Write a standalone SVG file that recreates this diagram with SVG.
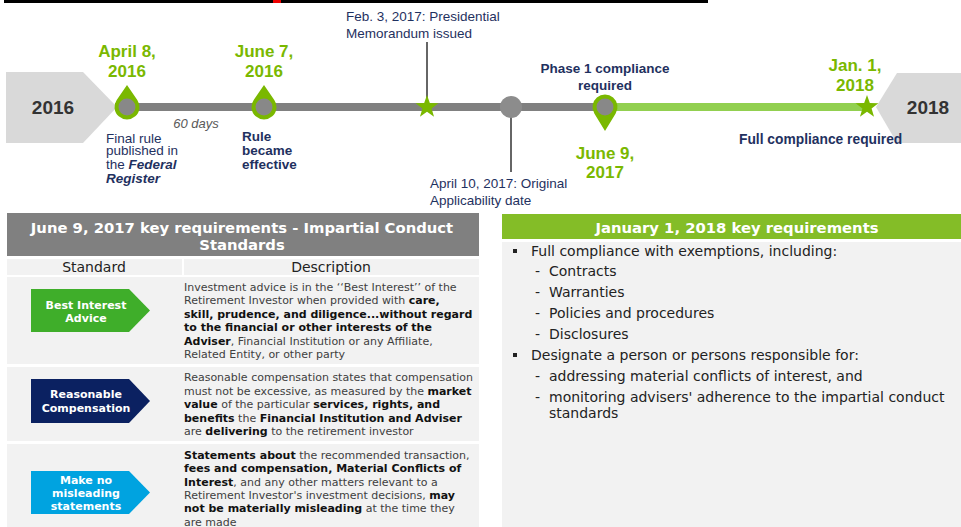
<svg xmlns="http://www.w3.org/2000/svg" width="961" height="527" viewBox="0 0 961 527">
<style>
.tl{font-family:"Liberation Sans",Arial,sans-serif}
.navy{fill:#1f3160}
.grn{fill:#7ab800;font-weight:bold;font-size:17px}
.yr{font-family:"Liberation Sans",Arial,sans-serif;font-weight:bold;font-size:19px;fill:#333}
.lbl{font-size:13.5px}
.tb{font-family:"DejaVu Sans",Verdana,sans-serif}
.hd{font-family:"DejaVu Sans",Verdana,sans-serif;font-size:14.8px;font-weight:bold;fill:#fff}
.desc{font-family:"DejaVu Sans",Verdana,sans-serif;font-size:11px;fill:#404040}
.desc tspan.b{font-weight:bold;fill:#111}
.arrt{font-family:"DejaVu Sans",Verdana,sans-serif;font-size:11px;font-weight:bold;fill:#fff}
.rt{font-family:"DejaVu Sans",Verdana,sans-serif;font-size:14px;fill:#222}
.lead{stroke:#333;stroke-width:1.5;fill:none}
</style>
<defs>
<polygon id="star" points="0,-12 2.82,-3.88 11.41,-3.71 4.57,1.48 7.05,9.71 0,4.8 -7.05,9.71 -4.57,1.48 -11.41,-3.71 -2.82,-3.88" fill="#7ab800"/>
</defs>
<rect width="961" height="527" fill="#fff"/>
<g id="topbar">
<rect x="4" y="0" width="704" height="3" fill="#000"/>
<rect x="273" y="0" width="8" height="3" fill="#e00"/>
</g>
<g id="connectors">
<line x1="115" y1="107" x2="605" y2="107" stroke="#808080" stroke-width="8"/>
<line x1="605" y1="107" x2="868" y2="107" stroke="#92d050" stroke-width="8"/>
<line class="lead" x1="427" y1="42" x2="427" y2="100"/>
<line class="lead" x1="511" y1="112" x2="511" y2="172"/>
</g>
<g id="y2016">
<polygon points="6,72 83,72 117,107 83,143 6,143" fill="#d9d9d9"/>
<text class="yr" x="53" y="114" text-anchor="middle">2016</text>
</g>
<g id="y2018">
<polygon points="876,107 897,73 961,73 961,143 897,143" fill="#d9d9d9"/>
<text class="yr" x="928" y="114" text-anchor="middle">2018</text>
</g>
<g id="apr8">
<path d="M127,85 L137.29,99.9 A12.5,12.5 0 1 1 116.71,99.9 Z" fill="#7ab800"/>
<circle cx="127" cy="107" r="8.5" fill="#888"/>
<text class="tl grn" x="127" y="57" text-anchor="middle">April 8,</text>
<text class="tl grn" x="127" y="77" text-anchor="middle">2016</text>
<text class="tl navy lbl" x="106" y="143">Final rule</text>
<text class="tl navy lbl" x="106" y="155">published  in</text>
<text class="tl navy lbl" x="106" y="169">the  <tspan font-weight="bold" font-style="italic">Federal</tspan></text>
<text class="tl navy lbl" x="106" y="183" font-weight="bold" font-style="italic">Register</text>
</g>
<g id="days60">
<text class="tl" font-size="13" font-style="italic" fill="#595959" x="196" y="128" text-anchor="middle">60 days</text>
</g>
<g id="jun7">
<path d="M264,85 L274.29,99.9 A12.5,12.5 0 1 1 253.71,99.9 Z" fill="#7ab800"/>
<circle cx="264" cy="107" r="8.5" fill="#888"/>
<text class="tl grn" x="264" y="57" text-anchor="middle">June 7,</text>
<text class="tl grn" x="264" y="77" text-anchor="middle">2016</text>
<text class="tl navy lbl" font-weight="bold" x="242" y="141">Rule</text>
<text class="tl navy lbl" font-weight="bold" x="242" y="155">became</text>
<text class="tl navy lbl" font-weight="bold" x="242" y="169">effective</text>
</g>
<g id="feb3">
<use href="#star" x="427" y="107"/>
<text class="tl navy lbl" x="346" y="21">Feb. 3, 2017: Presidential</text>
<text class="tl navy lbl" x="346" y="38">Memorandum issued</text>
</g>
<g id="apr10">
<circle cx="511" cy="107" r="11" fill="#8c8c8c"/>
<text class="tl navy lbl" x="430" y="188">April 10, 2017: Original</text>
<text class="tl navy lbl" x="430" y="205">Applicability date</text>
</g>
<g id="jun9">
<path d="M605,131 L594.33,113.51 A12.5,12.5 0 1 1 615.67,113.51 Z" fill="#7ab800"/>
<circle cx="605" cy="107" r="8.5" fill="#888"/>
<text class="tl navy lbl" font-weight="bold" x="605" y="73" text-anchor="middle">Phase 1 compliance</text>
<text class="tl navy lbl" font-weight="bold" x="605" y="90" text-anchor="middle">required</text>
<text class="tl grn" x="605" y="159" text-anchor="middle">June 9,</text>
<text class="tl grn" x="605" y="178" text-anchor="middle">2017</text>
</g>
<g id="jan1">
<use href="#star" x="867" y="107"/>
<text class="tl grn" x="855" y="71" text-anchor="middle">Jan. 1,</text>
<text class="tl grn" x="855" y="91" text-anchor="middle">2018</text>
<text class="tl navy" font-size="13.8" font-weight="bold" x="739" y="144">Full compliance required</text>
</g>
<g id="leftTable">
<rect x="7" y="213" width="472" height="43" fill="#808080"/>
<text class="hd" x="242" y="233" text-anchor="middle">June 9, 2017 key requirements - Impartial Conduct</text>
<text class="hd" x="242" y="250" text-anchor="middle">Standards</text>
<rect x="7" y="259" width="175" height="16" fill="#f2f2f2"/>
<rect x="184" y="259" width="295" height="16" fill="#f2f2f2"/>
<text class="tb" font-size="14" fill="#222" x="94" y="272" text-anchor="middle">Standard</text>
<text class="tb" font-size="14" fill="#222" x="331" y="272" text-anchor="middle">Description</text>
<rect x="7" y="277" width="472" height="87" fill="#f2f2f2"/>
<rect x="7" y="367" width="472" height="74" fill="#f2f2f2"/>
<rect x="7" y="444" width="472" height="83" fill="#f2f2f2"/>
</g>
<g id="bestInterest">
<polygon points="31,289 129,289 150,310.5 129,332 31,332" fill="#3fae2a"/>
<text class="arrt" x="86" y="309" text-anchor="middle">Best Interest</text>
<text class="arrt" x="86" y="322" text-anchor="middle">Advice</text>
<text class="desc" x="184" y="291">Investment advice is in the ‘‘Best Interest’’ of the</text>
<text class="desc" x="184" y="304">Retirement Investor when provided with <tspan class="b">care,</tspan></text>
<text class="desc" x="184" y="318"><tspan class="b">skill, prudence, and diligence...without regard</tspan></text>
<text class="desc" x="184" y="331"><tspan class="b">to the financial or other interests of the</tspan></text>
<text class="desc" x="184" y="345"><tspan class="b">Adviser</tspan>, Financial Institution or any Affiliate,</text>
<text class="desc" x="184" y="358">Related Entity, or other party</text>
</g>
<g id="reasonable">
<polygon points="31,379 129,379 150,401 129,423 31,423" fill="#0b2161"/>
<text class="arrt" x="86" y="398" text-anchor="middle">Reasonable</text>
<text class="arrt" x="86" y="412" text-anchor="middle">Compensation</text>
<text class="desc" x="184" y="381">Reasonable compensation states that compensation</text>
<text class="desc" x="184" y="395">must not be excessive, as measured by the <tspan class="b">market</tspan></text>
<text class="desc" x="184" y="408"><tspan class="b">value</tspan> of the particular <tspan class="b">services, rights, and</tspan></text>
<text class="desc" x="184" y="422"><tspan class="b">benefits</tspan> the <tspan class="b">Financial Institution and Adviser</tspan></text>
<text class="desc" x="184" y="435">are <tspan class="b">delivering</tspan> to the retirement investor</text>
</g>
<g id="misleading">
<polygon points="31,471 129,471 150,492.5 129,514 31,514" fill="#00a3e0"/>
<text class="arrt" x="86" y="484" text-anchor="middle">Make no</text>
<text class="arrt" x="86" y="497" text-anchor="middle">misleading</text>
<text class="arrt" x="86" y="510" text-anchor="middle">statements</text>
<text class="desc" x="184" y="459"><tspan class="b">Statements about</tspan> the recommended transaction,</text>
<text class="desc" x="184" y="472"><tspan class="b">fees and compensation, Material Conflicts of</tspan></text>
<text class="desc" x="184" y="486"><tspan class="b">Interest</tspan>, and any other matters relevant to a</text>
<text class="desc" x="184" y="499">Retirement Investor's investment decisions, <tspan class="b">may</tspan></text>
<text class="desc" x="184" y="512"><tspan class="b">not be materially misleading</tspan> at the time they</text>
<text class="desc" x="184" y="526">are made</text>
</g>
<g id="rightPanel">
<rect x="502" y="214" width="459" height="25" fill="#84bd27"/>
<text class="hd" x="737" y="233" text-anchor="middle">January 1, 2018 key requirements</text>
<rect x="502" y="242" width="459" height="285" fill="#f2f2f2"/>
<rect x="513" y="249" width="4" height="4" fill="#222"/>
<text class="rt" x="531" y="256">Full compliance with exemptions, including:</text>
<text class="rt" x="535" y="276">-</text><text class="rt" x="549" y="276">Contracts</text>
<text class="rt" x="535" y="297">-</text><text class="rt" x="549" y="297">Warranties</text>
<text class="rt" x="535" y="318">-</text><text class="rt" x="549" y="318">Policies and procedures</text>
<text class="rt" x="535" y="339">-</text><text class="rt" x="549" y="339">Disclosures</text>
<rect x="513" y="353" width="4" height="4" fill="#222"/>
<text class="rt" x="531" y="360">Designate a person or persons responsible for:</text>
<text class="rt" x="535" y="381">-</text><text class="rt" x="549" y="381">addressing material conflicts of interest, and</text>
<text class="rt" x="535" y="402">-</text><text class="rt" x="549" y="402">monitoring advisers' adherence to the impartial conduct</text>
<text class="rt" x="549" y="418">standards</text>
</g>
</svg>
